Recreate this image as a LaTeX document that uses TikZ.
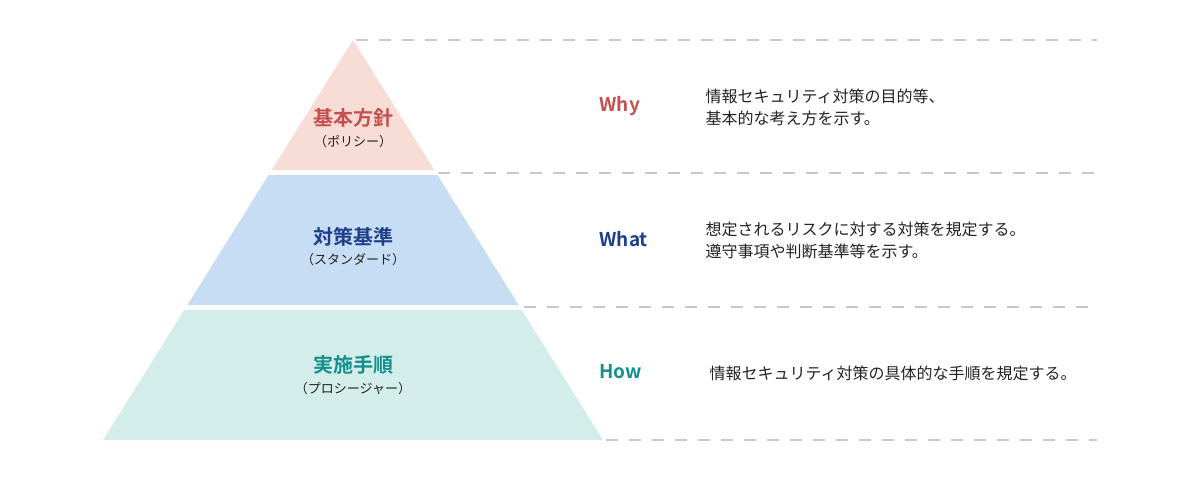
\documentclass[tikz,border=0pt]{standalone}
\usepackage{fontspec}
\setmainfont{Noto Sans CJK JP}[BoldFont={Noto Sans CJK JP Bold}]
\definecolor{policyfill}{HTML}{F8DCD6}
\definecolor{policytext}{HTML}{C4504F}
\definecolor{standardfill}{HTML}{C6DDF3}
\definecolor{standardtext}{HTML}{1F3F8A}
\definecolor{procfill}{HTML}{D2EDEA}
\definecolor{proctext}{HTML}{13908E}
\definecolor{guide}{HTML}{C8C8C8}
\definecolor{body}{HTML}{222222}
\tikzset{
  tiertitle/.style={font=\fontsize{20}{24}\selectfont\bfseries},
  tiersub/.style={font=\fontsize{13}{15}\selectfont, text=body},
  question/.style={anchor=west, font=\fontsize{19}{22}\selectfont\bfseries},
  desc/.style={anchor=west, align=left, text=body, font=\fontsize{16}{22}\selectfont},
  guideline/.style={draw=guide, line width=1.5pt, dash pattern=on 12pt off 11pt}
}
\begin{document}
\begin{tikzpicture}[x=1pt, y=-1pt]
  \useasboundingbox (0,0) rectangle (1200,480);
  \coordinate (apex) at (353,40);
  \fill[policyfill] (apex) -- (434.25,170) -- (271.75,170) -- cycle;
  \fill[standardfill] (268.6,175) -- (437.4,175) -- (518.6,305) -- (187.4,305) -- cycle;
  \fill[procfill] (184.25,310) -- (521.75,310) -- (603,440) -- (103,440) -- cycle;
  \draw
    (353,118) node[tiertitle, text=policytext] (policy){基本方針}
    (353,142) node[tiersub] (policysub){（ポリシー）}
    (353,237) node[tiertitle, text=standardtext] (standard){対策基準}
    (353,260) node[tiersub] (standardsub){（スタンダード）}
    (353,365) node[tiertitle, text=proctext] (proc){実施手順}
    (353,389) node[tiersub] (procsub){（プロシージャー）}
    (596,106) node[question, text=policytext] (why){Why}
    (596,239) node[question, text=standardtext] (what){What}
    (596,372) node[question, text=proctext] (how){How};
  \draw
    (702,107) node[desc] (whydesc){情報セキュリティ対策の目的等、\\基本的な考え方を示す。}
    (702,240) node[desc] (whatdesc){想定されるリスクに対する対策を規定する。\\遵守事項や判断基準等を示す。}
    (706,373) node[desc] (howdesc){情報セキュリティ対策の具体的な手順を規定する。};
  \coordinate (g0) at (356,40);
  \coordinate (g1) at (438,173);
  \coordinate (g2) at (524,307);
  \coordinate (g3) at (606,440);
  \coordinate (e0) at (1097,40);
  \coordinate (e1) at (1097,173);
  \coordinate (e2) at (1097,307);
  \coordinate (e3) at (1097,440);
  \begin{scope}[guideline]
    \draw (g0) to (e0);
    \draw (g1) to (e1);
    \draw (g2) to (e2);
    \draw (g3) to (e3);
  \end{scope}
\end{tikzpicture}
\end{document}
